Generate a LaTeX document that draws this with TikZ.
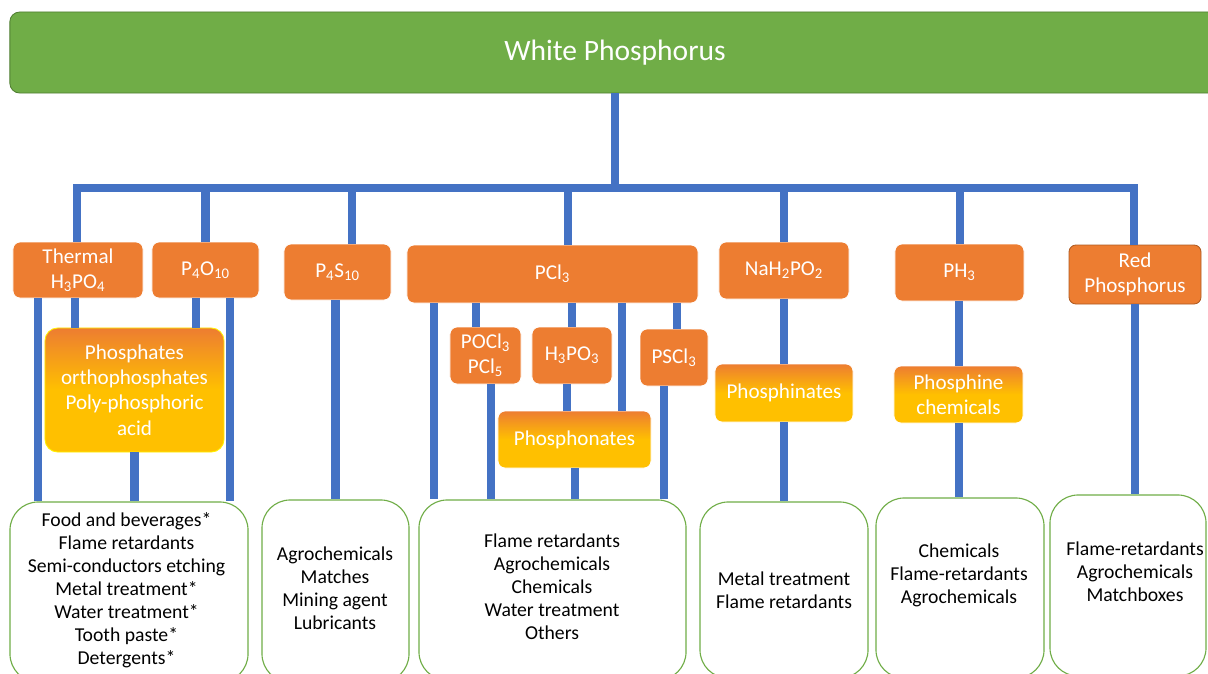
\documentclass[tikz,border=0pt]{standalone}
\usepackage{fontspec}
\setmainfont{Carlito}
\usepackage{xcolor}

\definecolor{leafgreen}{HTML}{70AD47}
\definecolor{leafdark}{HTML}{507E32}
\definecolor{pipeblue}{HTML}{4472C4}
\definecolor{boxorange}{HTML}{ED7D31}
\definecolor{boxgold}{HTML}{FFC000}
\definecolor{rustedge}{HTML}{AE5A21}

\begin{document}
\begin{tikzpicture}[x=0.025cm, y=-0.025cm,
    pipe/.style={pipeblue, line width=5.7pt},
    rootbox/.style={fill=leafgreen, draw=leafdark, line width=0.6pt, rounded corners=7pt, text=white, font=\fontsize{21}{25}\selectfont},
    chembox/.style={fill=boxorange, draw=white, line width=0.6pt, rounded corners=5pt, text=white, align=center, inner sep=0pt, font=\fontsize{15}{18}\selectfont},
    prodbox/.style={draw=white, line width=0.6pt, rounded corners=5pt, text=white, align=center, inner sep=0pt, font=\fontsize{15}{18}\selectfont,
      top color=boxorange, bottom color=boxgold, middle color=boxgold},
    usebox/.style={draw=leafgreen, line width=0.8pt, rounded corners=20pt, fill=white},
    usetext/.style={align=center, inner sep=0pt, font=\fontsize{14}{16.4}\selectfont}]
    \useasboundingbox (0,0) rectangle (1208,673);

    \node[rootbox, minimum width=30.25cm, minimum height=2.025cm] (white) at (615,52.5) {White Phosphorus};

    \node[chembox, minimum width=3.25cm, minimum height=1.4cm] (thermal) at (78,270) {Thermal\\H\textsubscript{3}PO\textsubscript{4}};
    \node[chembox, minimum width=2.675cm, minimum height=1.4cm] (ptenox) at (205.5,270) {P\textsubscript{4}O\textsubscript{10}};
    \node[chembox, minimum width=2.675cm, minimum height=1.4cm] (ptensulf) at (337.5,272) {P\textsubscript{4}S\textsubscript{10}};
    \node[chembox, minimum width=7.275cm, minimum height=1.45cm] (trichlor) at (552.5,274) {PCl\textsubscript{3}};
    \node[chembox, minimum width=3.25cm, minimum height=1.425cm] (hypophos) at (784,270.5) {NaH\textsubscript{2}PO\textsubscript{2}};
    \node[chembox, minimum width=3.225cm, minimum height=1.425cm] (phosphine) at (959.5,272.5) {PH\textsubscript{3}};
    \node[chembox, draw=rustedge, minimum width=3.3cm, minimum height=1.475cm] (redp) at (1135,274.5) {Red\\Phosphorus};

    \node[chembox, minimum width=1.775cm, minimum height=1.425cm] (oxychlor) at (485.5,355.5) {POCl\textsubscript{3}\\PCl\textsubscript{5}};
    \node[chembox, minimum width=2cm, minimum height=1.425cm] (phosacid) at (572,355.5) {H\textsubscript{3}PO\textsubscript{3}};
    \node[chembox, minimum width=1.7cm, minimum height=1.425cm] (thiochlor) at (674,357.5) {PSCl\textsubscript{3}};

    \node[prodbox, draw=yellow, rounded corners=9pt, minimum width=4.475cm, minimum height=3.1cm] (phosphates) at (134.5,390) {Phosphates\\orthophosphates\\Poly-phosphoric\\acid};
    \node[prodbox, minimum width=3.825cm, minimum height=1.425cm] (phosphonates) at (574.5,439.5) {Phosphonates};
    \node[prodbox, minimum width=3.45cm, minimum height=1.45cm] (phosphinates) at (784,393) {Phosphinates};
    \node[prodbox, minimum width=3.225cm, minimum height=1.425cm] (phoschem) at (958.5,394.5) {Phosphine\\chemicals};

    \node[usebox, minimum width=5.95cm, minimum height=4.5cm] (foods) at (129,592) {};
    \node[usebox, minimum width=3.675cm, minimum height=4.55cm] (matches) at (335.5,591) {};
    \node[usebox, minimum width=6.675cm, minimum height=4.5cm] (retard) at (552.5,590) {};
    \node[usebox, minimum width=4.2cm, minimum height=4.4cm] (metal) at (784,590) {};
    \node[usebox, minimum width=4.2cm, minimum height=4.5cm] (agro) at (960,588) {};
    \node[usebox, minimum width=3.9cm, minimum height=4.525cm] (matchbox) at (1128,585.5) {};

    \node[usetext] (foodslist) at (126.5,590) {Food and beverages*\\Flame retardants\\Semi-conductors etching\\Metal treatment*\\Water treatment*\\Tooth paste*\\Detergents*};
    \node[usetext] (matcheslist) at (335,588.5) {Agrochemicals\\Matches\\Mining agent\\Lubricants};
    \node[usetext] (retardlist) at (552,587) {Flame retardants\\Agrochemicals\\Chemicals\\Water treatment\\Others};
    \node[usetext] (metallist) at (784,590.5) {Metal treatment\\Flame retardants};
    \node[usetext] (agrolist) at (959,575.5) {Chemicals\\Flame-retardants\\Agrochemicals};
    \node[usetext] (matchboxlist) at (1135,572) {Flame-retardants\\Agrochemicals\\Matchboxes};

    \coordinate (busleft) at (77,188);
    \coordinate (busright) at (1134,188);
    \draw[pipe] (white.south) -- (white.south |- busleft);
    \draw[pipe, line cap=rect] (busleft) -- (busright);
    \draw[pipe] (busleft) -- (busleft |- thermal.north);
    \draw[pipe] (ptenox.north |- busleft) -- (ptenox.north);
    \draw[pipe] (352,0 |- busleft) -- (352,0 |- ptensulf.north);
    \draw[pipe] (568,0 |- busleft) -- (568,0 |- trichlor.north);
    \draw[pipe] (hypophos.north |- busleft) -- (hypophos.north);
    \draw[pipe] (phosphine.north |- busleft) -- (phosphine.north);
    \draw[pipe] (busright) -- (busright |- redp.north);

    \draw[pipe] (38,0 |- thermal.south) -- (38,0 |- foods.north);
    \draw[pipe] (75,0 |- thermal.south) -- (75,0 |- phosphates.north);
    \draw[pipe] (196,0 |- ptenox.south) -- (196,0 |- phosphates.north);
    \draw[pipe] (230,0 |- ptenox.south) -- (230,0 |- foods.north);
    \draw[pipe] (phosphates.south) -- (phosphates.south |- foods.north);
    \draw[pipe] (matches.north |- ptensulf.south) -- (matches.north);

    \draw[pipe] (434,0 |- trichlor.south) -- (434,0 |- retard.north);
    \draw[pipe] (476,0 |- trichlor.south) -- (476,0 |- oxychlor.north);
    \draw[pipe] (phosacid.north |- trichlor.south) -- (phosacid.north);
    \draw[pipe] (622,0 |- trichlor.south) -- (622,0 |- phosphonates.north);
    \draw[pipe] (677,0 |- trichlor.south) -- (677,0 |- thiochlor.north);
    \draw[pipe] (491,0 |- oxychlor.south) -- (491,0 |- retard.north);
    \draw[pipe] (567,0 |- phosacid.south) -- (567,0 |- phosphonates.north);
    \draw[pipe] (phosphonates.south) -- (phosphonates.south |- retard.north);
    \draw[pipe] (664,0 |- thiochlor.south) -- (664,0 |- retard.north);

    \draw[pipe] (hypophos.south) -- (hypophos.south |- phosphinates.north);
    \draw[pipe] (phosphinates.south) -- (metal.north);
    \draw[pipe] (phoschem.north |- phosphine.south) -- (phoschem.north);
    \draw[pipe] (phoschem.south) -- (phoschem.south |- agro.north);
    \draw[pipe] (redp.south) -- (redp.south |- matchbox.north);
  \end{tikzpicture}
\end{document}
